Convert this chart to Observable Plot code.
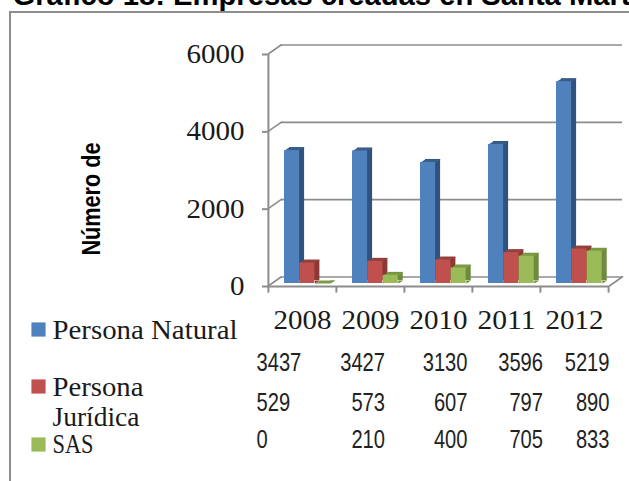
<!DOCTYPE html>
<html>
<head>
<meta charset="utf-8">
<script src="https://cdn.jsdelivr.net/npm/d3@7"></script>
<script src="https://cdn.jsdelivr.net/npm/@observablehq/plot@0.6"></script>
<style>
html,body{margin:0;padding:0;background:#fff;width:629px;height:481px;overflow:hidden}
#chart-border{position:absolute;left:8.5px;top:10.7px;right:0;bottom:0;border-left:2.5px solid #8e8e8e;border-top:2.5px solid #8e8e8e}
#chart{position:absolute;left:0;top:0}
</style>
</head>
<body>
<div id="chart-border"></div>
<div id="chart"></div>
<script>
const years = ["2008","2009","2010","2011","2012"];
const personaNatural = [3437,3427,3130,3596,5219];
const personaJuridica = [529,573,607,797,890];
const sas = [0,210,400,705,833];
const yTicks = [0,2000,4000,6000];
const titleText = "Gráfico 18: Empresas creadas en Santa Marta";
const yTitle = "Número de";

const M = {left:267, top:54};
const at = (px,py)=>({frameAnchor:"top-left",dx:px-M.left,dy:py-M.top});
const grey = "#8c8c8c";
const serif = "Liberation Serif";
const sans = "Liberation Sans";
const band = 68.2, barW = 15.3, depthX = 5, depthY = 3;

const topFace = {draw(ctx){ctx.moveTo(0,0);ctx.lineTo(depthX,-depthY);ctx.lineTo(barW+depthX,-depthY);ctx.lineTo(barW,0);ctx.closePath();}};
const footFace = {draw(ctx){ctx.moveTo(0,0);ctx.lineTo(depthX,-depthY);ctx.lineTo(0,-depthY);ctx.closePath();}};

function series(values, leftInset, front, dark, topColor){
  const data = years.map((y,i)=>({y,v:values[i]}));
  const opts = {x:"y", insetLeft:leftInset, insetRight:band-leftInset-barW};
  const vec = {x:"y",length:1,anchor:"start",stroke:"none",strokeWidth:0};
  const shift = leftInset-band/2;
  return [
    Plot.barY(data,{...opts,y:"v",fill:dark,dx:depthX,dy:-3-depthY}),
    Plot.vector(data,{...vec,y:()=>0,shape:footFace,fill:dark,dx:shift+barW,dy:-3}),
    Plot.vector(data,{...vec,y:"v",shape:topFace,fill:topColor,dx:shift,dy:-3}),
    Plot.barY(data,{...opts,y:"v",fill:front,dy:-3})
  ];
}
const diag = {draw(ctx,l){ctx.moveTo(0,0);ctx.lineTo(0,-l);}};

const tableRows = [personaNatural,personaJuridica,sas];
const rowBaseline = [370,410,447];
const colDx = [-46,14.5,29,36.5,35];
const tableMarks = years.flatMap((y,i)=>tableRows.map((vals,r)=>
  Plot.text([String(vals[i])],{
    x:()=>y,text:d=>d,frameAnchor:"top",
    dx:colDx[i],dy:rowBaseline[r]-M.top,
    lineAnchor:"bottom",textAnchor:i===0?"start":"end",
    fontFamily:sans,fontSize:26,fill:"#222",className:"tbl"
  })));

const legendItems = [
  {label:["Persona Natural"],base:[338],sw:329,c:"#4f81bd"},
  {label:["Persona","Jurídica"],base:[395,425],sw:386,c:"#c0504d"},
  {label:["SAS"],base:[452],sw:444,c:"#9bbb59"}
];
const legendMarks = legendItems.flatMap(it=>[
  Plot.dot([0],{...at(38,it.sw),symbol:"square",r:8,fill:it.c}),
  ...it.label.map((t,k)=>Plot.text([t],{...at(52,it.base[k]),text:d=>d,lineAnchor:"bottom",textAnchor:"start",fontFamily:serif,fontSize:27,fill:"#1a1a1a",className:"leg"}))
]);

const plot = Plot.plot({
  width:629,height:481,
  marginLeft:M.left,marginRight:21,marginTop:M.top,marginBottom:195,
  style:{background:"none",overflow:"hidden"},
  x:{type:"band",domain:years,padding:0,label:null},
  y:{domain:[0,6000],label:null},
  marks:[
    Plot.text([titleText],{...at(12,4),text:d=>d,lineAnchor:"bottom",textAnchor:"start",fontFamily:sans,fontWeight:"bold",fontSize:29.2,fill:"#000"}),
    Plot.ruleY(yTicks,{dx:14,dy:-9.5,stroke:grey,strokeWidth:1.6}),
    Plot.vector(yTicks,{y:d=>d,frameAnchor:"left",length:17,rotate:55,anchor:"start",shape:diag,stroke:grey,strokeWidth:1.6}),
    Plot.vector([0],{x:()=>years[4],y:d=>d,length:17,rotate:55,anchor:"start",shape:diag,stroke:grey,strokeWidth:1.6,dx:band/2}),
    ...series(personaNatural,16,"#4f81bd","#30527f","#385d8a"),
    ...series(personaJuridica,31.3,"#c0504d","#8c3836","#94403d"),
    ...series(sas,46.6,"#9bbb59","#6f8a3c","#7d9a45"),
    Plot.ruleX([years[0]],{x:d=>d,dx:-band/2,stroke:grey,strokeWidth:2}),
    Plot.ruleY([0],{stroke:grey,strokeWidth:2}),
    Plot.ruleX(years,{x:d=>d,y1:0,y2:-170,dx:-band/2,stroke:grey,strokeWidth:2}),
    Plot.ruleX([years[4]],{x:d=>d,y1:0,y2:-170,dx:band/2,stroke:grey,strokeWidth:2}),
    Plot.axisY({ticks:yTicks,tickFormat:d=>String(d),tickSize:5,tickPadding:18,stroke:grey,fill:"#1a1a1a",fontSize:27,fontFamily:serif,label:null,className:"yax",strokeWidth:2}),
    Plot.axisX({tickSize:0,tickPadding:23,fill:"#1a1a1a",fontSize:27,fontFamily:serif,label:null,className:"xax"}),
    ...tableMarks,
    ...legendMarks,
    Plot.text([yTitle],{...at(91,198.5),text:d=>d,rotate:-90,textAnchor:"middle",lineAnchor:"middle",fontFamily:sans,fontWeight:"bold",fontSize:26,fill:"#000",className:"ytitle"})
  ]
});
document.getElementById("chart").appendChild(plot);
const fit=(sel,fn)=>plot.querySelectorAll(sel).forEach(el=>{el.setAttribute("textLength",fn(el.textContent));el.setAttribute("lengthAdjust","spacingAndGlyphs");});
fit(".tbl text",s=>s.length*11.2);
fit(".yax text",s=>s.length*14.5);
fit(".xax text",s=>s.length*14.5);
fit(".ytitle text",()=>113);
fit(".leg text",s=>({"Persona Natural":185,"Persona":91,"Jurídica":87,"SAS":41})[s]);
</script>
</body>
</html>
